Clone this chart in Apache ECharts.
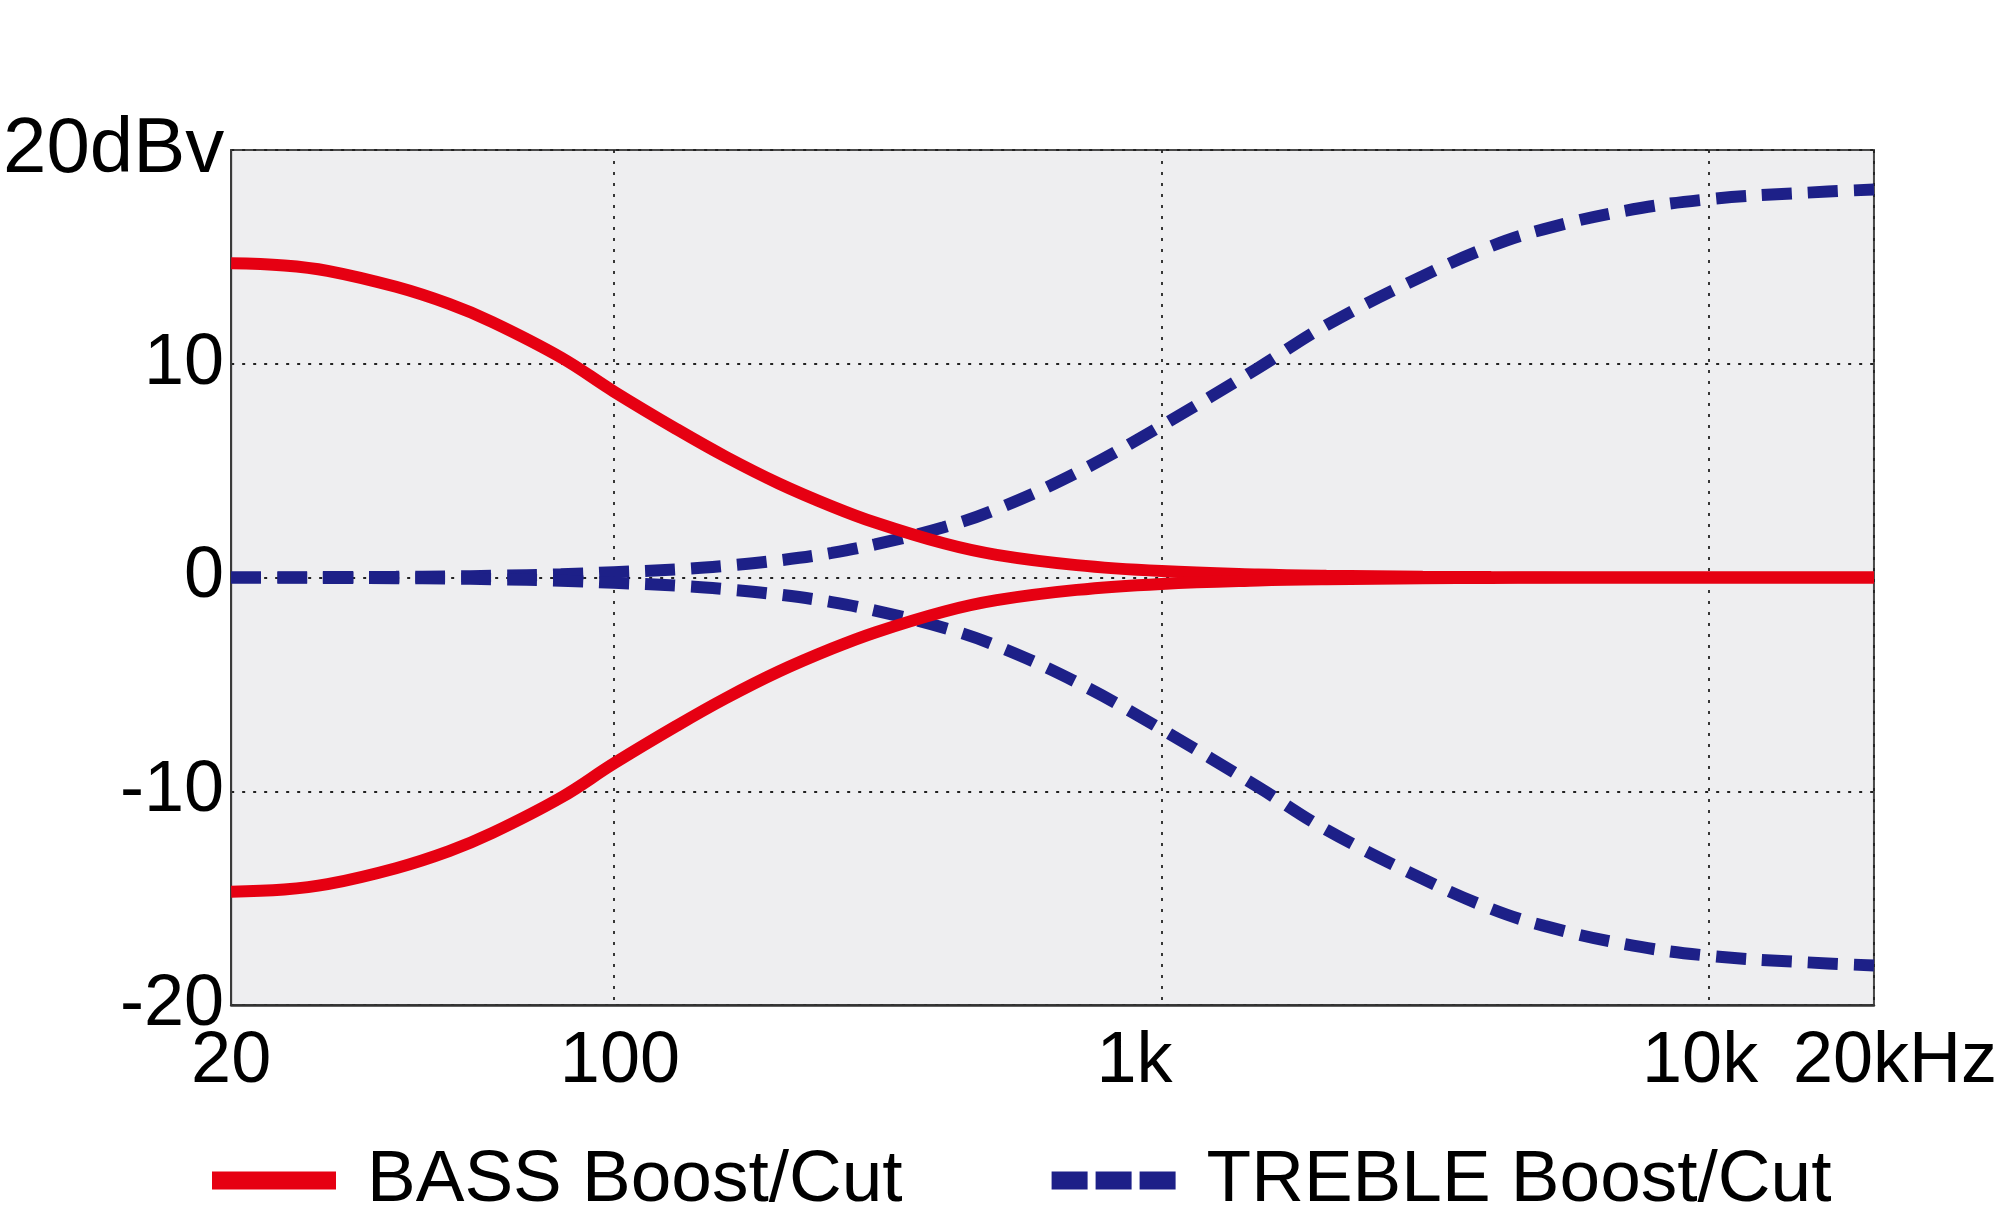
<!DOCTYPE html>
<html>
<head>
<meta charset="utf-8">
<script src="https://cdn.jsdelivr.net/npm/echarts@6/dist/echarts.min.js"></script>
<style>
html,body{margin:0;padding:0;background:#fff;}
#chart{width:2000px;height:1222px;}
</style>
</head>
<body>
<div id="chart"></div>
<script>
// Frequencies (Hz) at which values were read
const freqs = [20, 25, 30, 40, 50, 60, 80, 100, 130, 160, 200, 250, 300, 400, 500, 700, 1000, 1500, 2000, 3000, 4000, 5000, 7000, 10000, 15000, 20000];
// Response values (dBv)
const bassBoost  = [14.7, 14.6, 14.35, 13.6, 12.8, 11.95, 10.3, 8.7, 6.95, 5.65, 4.4, 3.33, 2.57, 1.6, 1.06, 0.58, 0.3, 0.14, 0.08, 0.04, 0.02, 0.01, 0, 0, 0, 0];
const bassCut    = [-14.7, -14.6, -14.35, -13.6, -12.8, -11.95, -10.3, -8.7, -6.95, -5.65, -4.4, -3.33, -2.57, -1.6, -1.06, -0.58, -0.3, -0.14, -0.08, -0.04, -0.02, -0.01, 0, 0, 0, 0];
const trebleBoost = [0, 0.01, 0.02, 0.03, 0.05, 0.08, 0.15, 0.25, 0.38, 0.55, 0.8, 1.15, 1.55, 2.35, 3.2, 4.9, 7.1, 9.8, 11.8, 14.1, 15.5, 16.3, 17.15, 17.7, 18.0, 18.15];
const trebleCut   = [0, -0.01, -0.02, -0.03, -0.05, -0.08, -0.15, -0.25, -0.38, -0.55, -0.8, -1.15, -1.55, -2.35, -3.2, -4.9, -7.1, -9.8, -11.8, -14.1, -15.5, -16.3, -17.15, -17.7, -18.0, -18.15];
// Axis labels
const xTickLabels = {20: '20', 100: '100', 1000: '1k', 10000: '10k', 20000: '20kHz'};
const yTickLabels = {'-20': '-20', '-10': '-10', '0': '0', '10': '10', '20': '20dBv'};
const legendNames = ['BASS Boost/Cut', 'TREBLE Boost/Cut'];

const RED = '#e60012';
const BLUE = '#1d2088';
const FONT = 'Liberation Sans';

function pairs(vals){ return freqs.map((f,i)=>[f, vals[i]]); }

const chart = echarts.init(document.getElementById('chart'), null, {renderer:'canvas'});

const xLabelStyle = {
  '20': {key:'a', pad:[0,0,0,0]},
  '100': {key:'b', pad:[0,0,0,12]},
  '1k': {key:'c', pad:[0,54,0,0]},
  '10k': {key:'d', pad:[0,18,0,0]},
  '20kHz': {key:'e', pad:[0,0,0,42]}
};
const rich = {};
Object.keys(xLabelStyle).forEach(k=>{
  rich[xLabelStyle[k].key] = {fontFamily:FONT, fontSize:72, color:'#000', padding:xLabelStyle[k].pad};
});
rich.big = {fontFamily:FONT, fontSize:78, color:'#000'};

const lineCommon = {
  type:'line', showSymbol:false, symbol:'none', smooth:0.4,
  clip:true, silent:true, animation:false
};

chart.setOption({
  animation:false,
  backgroundColor:'#ffffff',
  grid:{left:230, right:125, top:150, bottom:217, show:true, backgroundColor:'#eeeef0', borderColor:'#4a4a4a', borderWidth:2},
  xAxis:{
    type:'log', logBase:10, min:20, max:20000,
    axisLine:{show:true, onZero:false, lineStyle:{color:'#333', width:2.5}},
    axisTick:{show:false},
    splitLine:{show:true, lineStyle:{color:'#222', width:1.8, type:[3,8]}},
    axisLabel:{
      show:true, margin:21, showMinLabel:true, showMaxLabel:true, hideOverlap:false,
      fontFamily:FONT, fontSize:72, color:'#000',
      formatter:function(v){
        const r = Math.round(v);
        const t = xTickLabels[r];
        if(!t) return '';
        return '{' + xLabelStyle[t].key + '|' + t + '}';
      },
      rich:rich
    }
  },
  yAxis:{
    type:'value', min:-20, max:20, interval:10,
    axisLine:{show:true, onZero:false, lineStyle:{color:'#3a3a3a', width:2}},
    axisTick:{show:false},
    splitLine:{show:true, lineStyle:{color:'#222', width:1.8, type:[3,8]}},
    axisLabel:{
      margin:7, fontFamily:FONT, fontSize:72, color:'#000', showMinLabel:true, showMaxLabel:true,
      formatter:function(v){
        const t = yTickLabels[String(Math.round(v))] || '';
        return t === '20dBv' ? '{big|' + t + '}' : t;
      },
      rich:rich
    }
  },
  legend:{
    left:198, top:1139, orient:'horizontal',
    itemWidth:124, itemHeight:18, itemGap:140,
    textStyle:{fontFamily:FONT, fontSize:73, color:'#000', padding:[0,0,0,26]},
    data:[
      {name:legendNames[0], lineStyle:{width:18, color:RED, type:'solid', cap:'butt'}, itemStyle:{opacity:0}},
      {name:legendNames[1], lineStyle:{width:18, type:[36,8], color:BLUE, cap:'butt'}, itemStyle:{opacity:0}}
    ],
    selectedMode:false
  },
  series:[
    Object.assign({}, lineCommon, {name:legendNames[1], data:pairs(trebleBoost), z:2,
      lineStyle:{color:BLUE, width:12, type:[30,16], cap:'butt'}, itemStyle:{color:BLUE}}),
    Object.assign({}, lineCommon, {name:legendNames[1], data:pairs(trebleCut), z:2,
      lineStyle:{color:BLUE, width:12, type:[30,16], cap:'butt'}, itemStyle:{color:BLUE}}),
    Object.assign({}, lineCommon, {name:legendNames[0], data:pairs(bassBoost), z:3,
      lineStyle:{color:RED, width:12, cap:'butt'}, itemStyle:{color:RED}}),
    Object.assign({}, lineCommon, {name:legendNames[0], data:pairs(bassCut), z:3,
      lineStyle:{color:RED, width:12, cap:'butt'}, itemStyle:{color:RED}})
  ]
});
</script>
</body>
</html>
